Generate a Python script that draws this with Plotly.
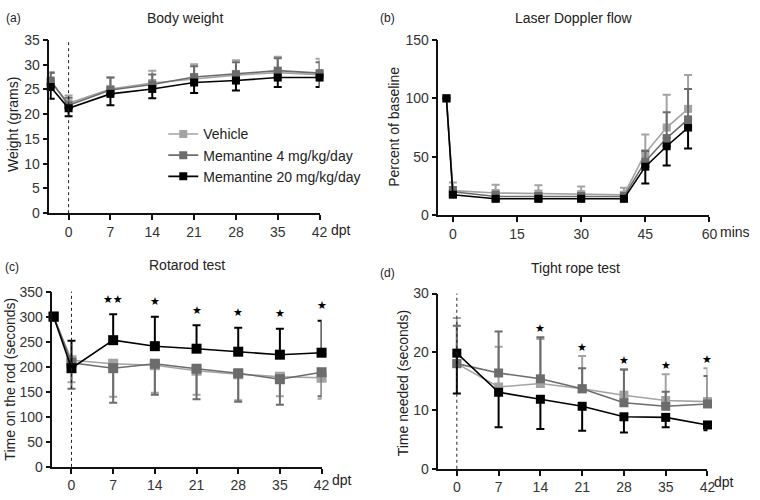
import plotly.graph_objects as go

# ---------------- data ----------------
series_names = ["Vehicle", "Memantine 4 mg/kg/day", "Memantine 20 mg/kg/day"]

# (a) Body weight
bw_x = [-3, 0, 7, 14, 21, 28, 35, 42]
bw_veh = [26.5, 22.2, 25.1, 26.3, 27.1, 27.9, 28.4, 28.0]
bw_veh_err = [2.0, 1.6, 2.3, 2.5, 3.0, 3.0, 3.2, 3.2]
bw_m4 = [26.8, 21.8, 24.9, 26.0, 27.5, 28.1, 28.8, 28.3]
bw_m4_err = [1.5, 1.5, 2.5, 2.0, 2.2, 2.4, 2.5, 2.2]
bw_m20 = [25.5, 21.2, 24.1, 25.1, 26.4, 26.8, 27.4, 27.4]
bw_m20_err = [2.4, 1.6, 2.3, 1.9, 2.1, 2.0, 1.9, 1.9]

# (b) Laser Doppler flow
ld_x = [-1.5, 0, 10, 20, 30, 40, 45, 50, 55]
ld_veh = [100, 21, 19, 18.5, 18, 17.5, 53, 75, 91]
ld_veh_err = [0, 7, 7, 7, 6.5, 6, 16, 28, 29]
ld_m4 = [100, 20, 16, 16, 16, 16, 46, 66, 82]
ld_m4_err = [0, 4, 4, 3, 3, 3, 9, 22, 26]
ld_m20 = [100, 17.5, 14, 14, 14, 14, 41.5, 59, 75]
ld_m20_err = [0, 2, 2, 2, 2, 2, 14.5, 16.5, 18]

# (c) Rotarod test
rr_x = [-3, 0, 7, 14, 21, 28, 35, 42]
rr_veh = [300, 213, 206, 203, 192, 185, 180, 178]
rr_veh_err = [0, 44, 66, 55, 48, 52, 39, 42]
rr_m4 = [300, 208, 197, 206, 196, 187, 175, 189]
rr_m4_err = [0, 52, 69, 62, 61, 57, 51, 48]
rr_m20 = [300, 197, 253, 241, 236, 230, 224, 228]
rr_m20_err = [0, 55, 52, 59, 47, 48, 52, 64]
rr_sig = ["", "", "★★", "★", "★", "★", "★", "★"]

# (d) Tight rope test
tr_x = [0, 7, 14, 21, 28, 35, 42]
tr_veh = [18.0, 14.0, 14.6, 13.7, 12.6, 11.7, 11.5]
tr_veh_err = [7.8, 6.9, 7.6, 5.6, 4.4, 4.5, 5.7]
tr_m4 = [18.0, 16.4, 15.4, 13.7, 11.3, 10.7, 11.1]
tr_m4_err = [6.5, 7.1, 7.1, 3.5, 5.7, 2.5, 4.8]
tr_m20 = [19.8, 13.1, 11.9, 10.7, 8.9, 8.8, 7.5]
tr_m20_err = [6.9, 6.0, 5.1, 4.2, 2.7, 1.7, 0.9]
tr_sig = ["", "", "★", "★", "★", "★", "★"]

# ---------------- style ----------------
COLORS = ["#a3a3a3", "#6c6c6c", "#000000"]
FONT = "Liberation Sans, Arial, sans-serif"
W, H = 760, 500

fig = go.Figure()


def add_panel(xax, yax, x, ys, errs, up_flags, msize, legend=False):
    for i, (y, e, up) in enumerate(zip(ys, errs, up_flags)):
        zeros = [0] * len(e)
        fig.add_trace(go.Scatter(
            x=x, y=y, mode="lines+markers", name=series_names[i],
            xaxis=xax, yaxis=yax, showlegend=legend, cliponaxis=False,
            line=dict(color=COLORS[i], width=1.6),
            marker=dict(symbol="square", size=msize, color=COLORS[i]),
            error_y=dict(type="data", symmetric=False,
                         array=e if up else zeros,
                         arrayminus=zeros if up else e,
                         color=COLORS[i], thickness=2, width=4),
        ))


add_panel("x", "y", bw_x, [bw_veh, bw_m4, bw_m20],
          [bw_veh_err, bw_m4_err, bw_m20_err], [True, True, False], 8, legend=True)
add_panel("x2", "y2", ld_x, [ld_veh, ld_m4, ld_m20],
          [ld_veh_err, ld_m4_err, ld_m20_err], [True, True, False], 8)
add_panel("x3", "y3", rr_x, [rr_veh, rr_m4, rr_m20],
          [rr_veh_err, rr_m4_err, rr_m20_err], [False, False, True], 10)
add_panel("x4", "y4", tr_x, [tr_veh, tr_m4, tr_m20],
          [tr_veh_err, tr_m4_err, tr_m20_err], [True, True, False], 9)


def px_dom_x(a, b):
    return [a / W, b / W]


def px_dom_y(top, bottom):
    return [1 - bottom / H, 1 - top / H]


axis_common = dict(showline=True, linewidth=1.6, linecolor="#111", ticks="outside",
                   ticklen=5, tickwidth=1.6, tickcolor="#111", showgrid=False,
                   zeroline=False, tickfont=dict(family=FONT, size=14, color="#333"))

fig.update_layout(
    width=W, height=H, margin=dict(l=0, r=0, t=0, b=0),
    paper_bgcolor="white", plot_bgcolor="white",
    font=dict(family=FONT, size=14, color="#333"),
    xaxis=dict(domain=px_dom_x(50, 323), range=[-3.2, 42], anchor="y",
               tickvals=[0, 7, 14, 21, 28, 35, 42], **axis_common),
    yaxis=dict(domain=px_dom_y(33, 212), range=[0, 35], anchor="x",
               tickvals=list(range(0, 36, 5)), **axis_common),
    xaxis2=dict(domain=px_dom_x(443, 717), range=[-3.4, 60], anchor="y2",
                tickvals=[0, 15, 30, 45, 60], **axis_common),
    yaxis2=dict(domain=px_dom_y(33, 214), range=[0, 150], anchor="x2",
                tickvals=[0, 50, 100, 150], **axis_common),
    xaxis3=dict(domain=px_dom_x(53, 325), range=[-3.2, 42], anchor="y3",
                tickvals=[0, 7, 14, 21, 28, 35, 42], **axis_common),
    yaxis3=dict(domain=px_dom_y(293, 474), range=[0, 350], anchor="x3",
                tickvals=list(range(0, 351, 50)), **axis_common),
    xaxis4=dict(domain=px_dom_x(443, 715), range=[-3.1, 42], anchor="y4",
                tickvals=[0, 7, 14, 21, 28, 35, 42], **axis_common),
    yaxis4=dict(domain=px_dom_y(295, 476), range=[0, 30], anchor="x4",
                tickvals=[0, 10, 20, 30], **axis_common),
    legend=dict(x=165 / W, y=1 - 114 / H, xanchor="left", yanchor="top",
                bgcolor="rgba(0,0,0,0)", font=dict(family=FONT, size=14, color="#222"),
                tracegroupgap=0, itemwidth=30),
)

# dotted lines at x=0
for xr, yr in [("x", "y"), ("x3", "y3"), ("x4", "y4")]:
    fig.add_shape(type="line", xref=xr, yref=yr + " domain", x0=0, x1=0, y0=0, y1=1,
                  line=dict(color="#222", width=1, dash="dot"))

ann = []


def text(x, y, t, size=14, angle=0, xanchor="center", yanchor="middle", color="#222"):
    ann.append(dict(x=x / W, y=1 - y / H, xref="paper", yref="paper", text=t,
                    showarrow=False, textangle=angle, xanchor=xanchor, yanchor=yanchor,
                    font=dict(family=FONT, size=size, color=color)))


# panel letters and titles
text(4, 10, "(a)", 12, xanchor="left")
text(382, 10, "(b)", 12, xanchor="left")
text(3, 268, "(c)", 12, xanchor="left")
text(382, 274, "(d)", 12, xanchor="left")
text(187, 10, "Body weight", 14)
text(580, 10, "Laser Doppler flow", 14)
text(189, 266, "Rotarod test", 14)
text(582, 269, "Tight rope test", 14)

# y axis titles
text(13, 120, "Weight (grams)", 14, angle=-90)
text(398, 123, "Percent of baseline", 14, angle=-90)
text(10, 383, "Time on the rod (seconds)", 14, angle=-90)
text(407, 387, "Time needed (seconds)", 14, angle=-90)

# units
text(332, 229, "dpt", 14, xanchor="left")
text(726, 231, "mins", 14, xanchor="left")
text(334, 488, "dpt", 14, xanchor="left")
text(720, 490, "dpt", 14, xanchor="left")

# significance stars
STAR_FONT = "DejaVu Sans, sans-serif"
for i, s in enumerate(rr_sig):
    if s:
        ann.append(dict(x=rr_x[i], y=rr_m20[i] + rr_m20_err[i], xref="x3", yref="y3",
                        text=s, showarrow=False, yanchor="middle", yshift=15,
                        font=dict(family=STAR_FONT, size=11, color="#000")))
for i, s in enumerate(tr_sig):
    if s:
        top = max(tr_veh[i] + tr_veh_err[i], tr_m4[i] + tr_m4_err[i])
        ann.append(dict(x=tr_x[i], y=top, xref="x4", yref="y4",
                        text=s, showarrow=False, yanchor="middle", yshift=9,
                        font=dict(family=STAR_FONT, size=11, color="#000")))

fig.update_layout(annotations=ann)
fig.write_html(
    "out.html",
    config={"displayModeBar": False},
    post_script=(
        "document.documentElement.style.margin='0';"
        "document.body.style.margin='0';document.body.style.padding='0';"
        "document.body.style.overflow='hidden';"
        "var gd=document.getElementById('{plot_id}');"
        "gd.style.position='fixed';gd.style.left='0px';gd.style.top='0px';"
    ),
)
